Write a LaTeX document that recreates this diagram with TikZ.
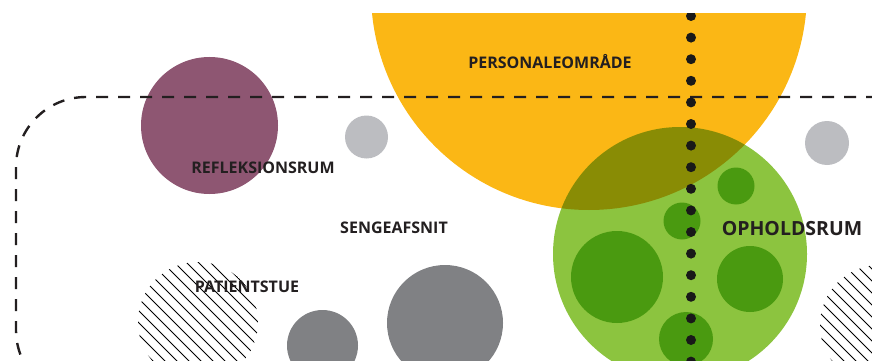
\documentclass[tikz,border=0pt]{standalone}
\usepackage{fontspec}
\setmainfont{Open Sans}
\usetikzlibrary{calc}

\definecolor{personale}{HTML}{FBB715}
\definecolor{ophold}{HTML}{8CC43F}
\definecolor{opholddark}{HTML}{4A9A10}
\definecolor{refleksion}{HTML}{8E5672}
\definecolor{lysgraa}{HTML}{BCBDC1}
\definecolor{moerkgraa}{HTML}{808184}
\definecolor{tekst}{HTML}{231F20}

\tikzset{
  rumnavn/.style={font=\bfseries\fontsize{16}{16}\selectfont, text=tekst, inner sep=0pt},
  afsnit/.style={draw=tekst, line width=2.4pt, dash pattern=on 12pt off 10pt, rounded corners=70pt},
  skravering/.style={draw=black, line width=0.8pt}
}

\begin{document}
\begin{tikzpicture}[x=1pt,y=-1pt]
\useasboundingbox (0,0) rectangle (872,361);
\clip (0,14) rectangle (872,361);

% personaleomraade og opholdsrum
\fill[personale] (589,-8) circle (218pt);
\begin{scope}[blend mode=multiply]
  \fill[ophold] (680,254) circle (127pt);
\end{scope}
\fill[opholddark] (617,277) circle (46pt);
\fill[opholddark] (736,186) circle (18.5pt);
\fill[opholddark] (682,221) circle (18.5pt);
\fill[opholddark] (750,279) circle (33pt);
\fill[opholddark] (686,339) circle (27pt);

% sengeafsnit
\fill[refleksion] (209.5,125.5) circle (68.5pt);
\fill[lysgraa] (366.5,137) circle (21.5pt);
\fill[lysgraa] (827,143) circle (22pt);
\fill[moerkgraa] (445,323) circle (58pt);
\fill[moerkgraa] (322.5,345.5) circle (35.5pt);

% patientstuer, skraverede
\foreach \cx/\cy in {198/322, 880/325}{
  \begin{scope}
    \clip (\cx,\cy) circle (60pt);
    \foreach \k in {-9,...,9}
      \draw[skravering] ($(\cx,\cy)+(\k*6,-\k*6)+(-80,-80)$) -- ++(160,160);
  \end{scope}
}

\draw[afsnit] (900,97) -- (16,97) -- (16,400) -- (900,400);

% gangforbindelse
\foreach \i in {0,...,16}
  \fill[black!90] (691,16+21.6*\i) circle (5pt);

\node[rumnavn] (personaleomraade) at (550,62) {PERSONALEOMRÅDE};
\node[rumnavn] (refleksionsrum) at (263,168) {REFLEKSIONSRUM};
\node[rumnavn] (sengeafsnit) at (394,228) {SENGEAFSNIT};
\node[rumnavn] (patientstue) at (247,287) {PATIENTSTUE};
\node[rumnavn, font=\bfseries\fontsize{19.5}{19.5}\selectfont] (opholdsrum) at (792,228.5) {OPHOLDSRUM};
\end{tikzpicture}
\end{document}
